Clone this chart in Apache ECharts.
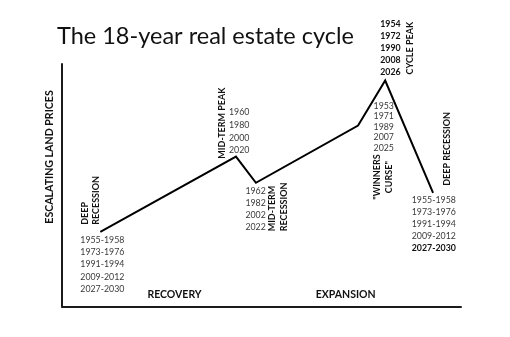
<!DOCTYPE html>
<html>
<head>
<meta charset="utf-8">
<script src="https://cdn.jsdelivr.net/npm/echarts@6/dist/echarts.min.js"></script>
<style>
  html, body { margin: 0; padding: 0; background: #ffffff; }
  #chart { width: 510px; height: 337px; }
</style>
</head>
<body>
<div id="chart"></div>
<script>
// Turning points of the cycle, position along the cycle (0-100) and relative land price (0-100)
const phaseNames = ['Deep recession', 'Mid-term peak', 'Mid-term recession', 'Winners curse', 'Cycle peak', 'Deep recession'];
const cyclePosition = [9.6, 43.6, 48.6, 74.2, 81.0, 93.0];
const landPrice = [30.8, 61.8, 51.0, 74.6, 93.2, 46.9];

// Year annotations for each turning point
const deepRecessionYears = ['1955-1958', '1973-1976', '1991-1994', '2009-2012', '2027-2030'];
const midTermPeakYears = ['1960', '1980', '2000', '2020'];
const midTermRecessionYears = ['1962', '1982', '2002', '2022'];
const winnersCurseYears = ['1953', '1971', '1989', '2007', '2025'];
const cyclePeakYears = ['1954', '1972', '1990', '2008', '2026'];

// Phase names along the bottom axis, with their position on the cycle
const phaseLabels = ['RECOVERY', 'EXPANSION'];
const phaseLabelPosition = [28.2, 71.1];

const FONT = 'Lato, "Open Sans", sans-serif';
const DARK = '#111111';
const GREY = '#3a3a3a';
const YEAR_SIZE = 8.8;
const TAG_SIZE = 9;

const chart = echarts.init(document.getElementById('chart'), null, { renderer: 'canvas' });

const hiddenAxis = {
  type: 'value', min: 0, max: 100,
  axisLine: { show: true, onZero: false, lineStyle: { color: '#1b1b1b', width: 2 } },
  axisTick: { show: false }, axisLabel: { show: false }, splitLine: { show: false }
};

chart.setOption({
  animation: false,
  backgroundColor: '#ffffff',
  title: {
    text: 'The 18-year real estate cycle',
    left: 57, top: 24, padding: 0,
    textStyle: { fontFamily: FONT, fontSize: 23.5, fontWeight: 'normal', color: DARK }
  },
  grid: { left: 62, right: 49, top: 64, bottom: 30.5 },
  xAxis: hiddenAxis,
  yAxis: hiddenAxis,
  series: [{
    type: 'line',
    name: 'Land prices',
    data: cyclePosition.map((x, i) => [x, landPrice[i]]),
    symbol: 'none',
    lineStyle: { color: '#000000', width: 2, join: 'miter' }
  }]
});

// Pixel location of every turning point, read back from the axes
const pt = cyclePosition.map((x, i) => chart.convertToPixel({ gridIndex: 0 }, [x, landPrice[i]]));

function yearList(lines, x, y, lineHeight, bold) {
  return {
    type: 'text', x: x, y: y, silent: true,
    style: {
      text: lines.join('\n'), fill: bold ? DARK : GREY,
      font: (bold ? 'bold ' : '') + YEAR_SIZE + 'px ' + FONT,
      align: 'left', verticalAlign: 'top', lineHeight: lineHeight
    }
  };
}
function vertical(text, x, y, align, lineHeight) {
  return {
    type: 'text', x: x, y: y, rotation: Math.PI / 2, silent: true,
    style: {
      text: text, fill: DARK, font: 'bold ' + TAG_SIZE + 'px ' + FONT,
      align: align, verticalAlign: 'middle', lineHeight: lineHeight
    }
  };
}

const [p0, p1, p2, p3, p4, p5] = pt;
const graphics = [
  // axis name
  {
    type: 'text', x: 50, y: 157, rotation: Math.PI / 2, silent: true,
    style: { text: 'ESCALATING LAND PRICES', fill: DARK, font: 'bold 10.6px ' + FONT, align: 'center', verticalAlign: 'middle' }
  },
  // deep recession (start)
  vertical('DEEP\nRECESSION', p0[0] - 9.5, p0[1] - 7, 'left', 11.5),
  yearList(deepRecessionYears, p0[0] - 20, p0[1] + 2, 12.25, false),
  // mid-term peak
  vertical('MID-TERM PEAK', p1[0] - 13.5, p1[1] + 2, 'left', 12),
  yearList(midTermPeakYears, p1[0] - 7, p1[1] - 50.5, 12.7, false),
  // mid-term recession
  yearList(midTermRecessionYears, p2[0] - 10.5, p2[1] + 2.2, 12.1, false),
  vertical('MID-TERM\nRECESSION', p2[0] + 22, p2[1] + 48.5, 'left', 12.4),
  // winners curse
  yearList(winnersCurseYears, p3[0] + 15.5, p3[1] - 24.7, 10.45, false),
  vertical('"WINNERS\nCURSE"', p3[0] + 25.5, p3[1] + 51.5, 'center', 12),
  // cycle peak
  yearList(cyclePeakYears, p4[0] - 5, p4[1] - 62.2, 12, true),
  vertical('CYCLE PEAK', p4[0] + 25, p4[1] - 6, 'left', 12),
  // deep recession (end)
  vertical('DEEP RECESSION', p5[0] + 13.7, p5[1] - 7, 'left', 12),
  yearList(deepRecessionYears.slice(0, -1), p5[0] - 21.3, p5[1] + 1.5, 12, false),
  yearList(deepRecessionYears.slice(-1), p5[0] - 21.3, p5[1] + 49.5, 12, true)
];

// phase names near the bottom of the chart
phaseLabels.forEach((label, i) => {
  const p = chart.convertToPixel({ gridIndex: 0 }, [phaseLabelPosition[i], 4.75]);
  graphics.push({
    type: 'text', x: p[0], y: p[1], silent: true,
    style: { text: label, fill: DARK, font: 'bold 10.5px ' + FONT, align: 'center', verticalAlign: 'middle' }
  });
});

chart.setOption({ graphic: graphics });
</script>
</body>
</html>
